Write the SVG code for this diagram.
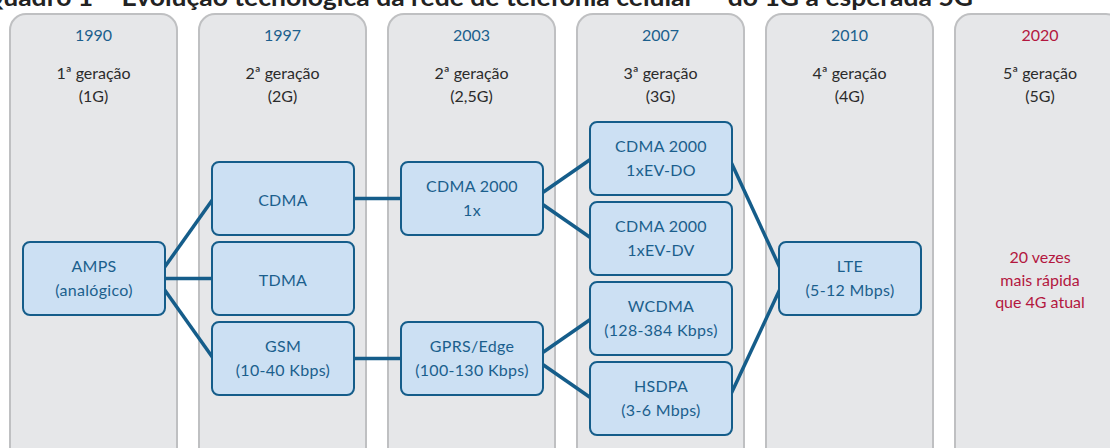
<svg xmlns="http://www.w3.org/2000/svg" width="1110" height="448" viewBox="0 0 1110 448">
<style>
.col{fill:#e6e7e9;stroke:#bfc0c2;stroke-width:2}
.node{fill:#cce0f3;stroke:#155d8a;stroke-width:2}
.t{font-family:Lato,"Liberation Sans",sans-serif;font-size:16px;text-anchor:middle}
.yr{fill:#1b5f8d}
.red{fill:#b3173f}
.gen{fill:#2b2b2b}
.nt{fill:#1b5f8d;letter-spacing:0.3px}
.title{font-family:Lato,"Liberation Sans",sans-serif;font-size:25px;font-weight:bold;fill:#222}
.c{stroke:#155d8a;stroke-width:3.5;fill:none}
</style>
<rect width="1110" height="448" fill="#ffffff"/>
<text class="title" x="-18" y="6" textLength="991" lengthAdjust="spacingAndGlyphs">Quadro 1 – Evolução tecnológica da rede de telefonia celular — do 1G à esperada 5G</text>
<g id="columns">
<rect class="col" x="10" y="14" width="167" height="450" rx="16"/>
<rect class="col" x="199" y="14" width="167" height="450" rx="16"/>
<rect class="col" x="388" y="14" width="167" height="450" rx="16"/>
<rect class="col" x="577" y="14" width="167" height="450" rx="16"/>
<rect class="col" x="766" y="14" width="167" height="450" rx="16"/>
<rect class="col" x="955" y="14" width="167" height="450" rx="16"/>
</g>
<g id="headers">
<text class="t yr" x="93.5" y="41">1990</text>
<text class="t gen" x="93.5" y="79">1ª geração</text>
<text class="t gen" x="93.5" y="102">(1G)</text>
<text class="t yr" x="282.5" y="41">1997</text>
<text class="t gen" x="282.5" y="79">2ª geração</text>
<text class="t gen" x="282.5" y="102">(2G)</text>
<text class="t yr" x="471.5" y="41">2003</text>
<text class="t gen" x="471.5" y="79">2ª geração</text>
<text class="t gen" x="471.5" y="102">(2,5G)</text>
<text class="t yr" x="660.5" y="41">2007</text>
<text class="t gen" x="660.5" y="79">3ª geração</text>
<text class="t gen" x="660.5" y="102">(3G)</text>
<text class="t yr" x="849.5" y="41">2010</text>
<text class="t gen" x="849.5" y="79">4ª geração</text>
<text class="t gen" x="849.5" y="102">(4G)</text>
<text class="t red" x="1040" y="41">2020</text>
<text class="t gen" x="1040" y="79">5ª geração</text>
<text class="t gen" x="1040" y="102">(5G)</text>
<text class="t red" x="1040" y="263">20 vezes</text>
<text class="t red" x="1040" y="286">mais rápida</text>
<text class="t red" x="1040" y="308">que 4G atual</text>
</g>
<g id="connectors">
<line class="c" x1="164" y1="268" x2="213" y2="199"/>
<line class="c" x1="164" y1="278.5" x2="213" y2="278.5"/>
<line class="c" x1="164" y1="289" x2="213" y2="358"/>
<line class="c" x1="353" y1="198.5" x2="402" y2="198.5"/>
<line class="c" x1="353" y1="358.5" x2="402" y2="358.5"/>
<line class="c" x1="542" y1="193" x2="591" y2="159"/>
<line class="c" x1="542" y1="204" x2="591" y2="238"/>
<line class="c" x1="542" y1="353" x2="591" y2="319"/>
<line class="c" x1="542" y1="364" x2="591" y2="398"/>
<line class="c" x1="731" y1="162" x2="780" y2="268"/>
<line class="c" x1="731" y1="394" x2="780" y2="289"/>
</g>
<g id="amps"><rect class="node" x="23" y="242" width="142" height="73" rx="7"/><text class="t nt" x="94" y="272">AMPS</text><text class="t nt" x="94" y="296">(analógico)</text></g>
<g id="cdma"><rect class="node" x="212" y="162" width="142" height="73" rx="7"/><text class="t nt" x="283" y="206">CDMA</text></g>
<g id="tdma"><rect class="node" x="212" y="242" width="142" height="73" rx="7"/><text class="t nt" x="283" y="286">TDMA</text></g>
<g id="gsm"><rect class="node" x="212" y="322" width="142" height="73" rx="7"/><text class="t nt" x="283" y="352">GSM</text><text class="t nt" x="283" y="376">(10-40 Kbps)</text></g>
<g id="cdma2000-1x"><rect class="node" x="401" y="162" width="142" height="73" rx="7"/><text class="t nt" x="472" y="192">CDMA 2000</text><text class="t nt" x="472" y="216">1x</text></g>
<g id="gprs"><rect class="node" x="401" y="322" width="142" height="73" rx="7"/><text class="t nt" x="472" y="352">GPRS/Edge</text><text class="t nt" x="472" y="376">(100-130 Kbps)</text></g>
<g id="evdo"><rect class="node" x="590" y="122" width="142" height="73" rx="7"/><text class="t nt" x="661" y="152">CDMA 2000</text><text class="t nt" x="661" y="176">1xEV-DO</text></g>
<g id="evdv"><rect class="node" x="590" y="202" width="142" height="73" rx="7"/><text class="t nt" x="661" y="232">CDMA 2000</text><text class="t nt" x="661" y="256">1xEV-DV</text></g>
<g id="wcdma"><rect class="node" x="590" y="282" width="142" height="73" rx="7"/><text class="t nt" x="661" y="312">WCDMA</text><text class="t nt" x="661" y="336">(128-384 Kbps)</text></g>
<g id="hsdpa"><rect class="node" x="590" y="362" width="142" height="73" rx="7"/><text class="t nt" x="661" y="392">HSDPA</text><text class="t nt" x="661" y="416">(3-6 Mbps)</text></g>
<g id="lte"><rect class="node" x="779" y="242" width="142" height="73" rx="7"/><text class="t nt" x="850" y="272">LTE</text><text class="t nt" x="850" y="296">(5-12 Mbps)</text></g>
</svg>
